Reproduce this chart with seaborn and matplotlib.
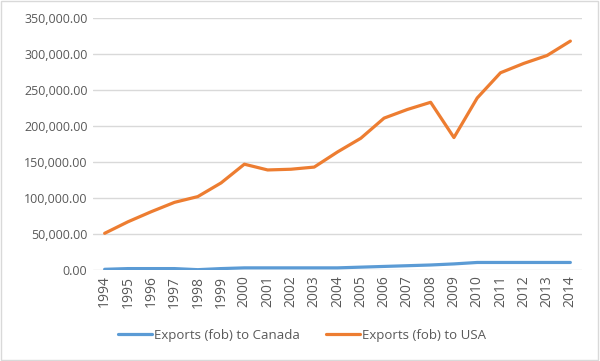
import pandas as pd
import matplotlib
matplotlib.use("Agg")
import matplotlib.pyplot as plt
from matplotlib.ticker import FuncFormatter
import seaborn as sns

# values
years = list(range(1994, 2015))
exports_canada = [1000, 2000, 2000, 2000, 500, 2000, 3000, 3000, 3000, 3000,
                  3000, 4000, 5000, 6000, 7000, 8500, 10500, 10500, 10500, 10500, 10500]
exports_usa = [51000, 67000, 81000, 94000, 102000, 121000, 147000, 139000, 140000, 143000,
               164000, 183000, 211000, 223000, 233000, 184000, 239000, 274000, 287000, 298000, 318000]
series_names = ["Exports (fob) to Canada", "Exports (fob) to USA"]
colors = ["#5B9BD5", "#ED7D31"]

df = pd.DataFrame({
    "Year": years * 2,
    "Value": exports_canada + exports_usa,
    "Series": [series_names[0]] * len(years) + [series_names[1]] * len(years),
})

sns.set_style("white")
plt.rcParams["font.family"] = ["Open Sans", "DejaVu Sans"]

fig = plt.figure(figsize=(6, 3.61), dpi=100)
ax = fig.add_axes([0.155, 0.252, 0.815, 0.698])

sns.lineplot(data=df, x="Year", y="Value", hue="Series", palette=colors,
             linewidth=2.3, ax=ax, legend=True)

ax.set_xlim(1993.5, 2014.5)
ax.set_ylim(0, 350000)
ax.set_yticks(range(0, 350001, 50000))
ax.yaxis.set_major_formatter(FuncFormatter(lambda v, p: f"{v:,.2f}"))
ax.set_xticks(years)
ax.set_xticklabels([str(y) for y in years], rotation=90)
ax.tick_params(axis="y", labelsize=9, colors="#595959", length=0, pad=4)
ax.tick_params(axis="x", labelsize=10, colors="#595959", length=0, pad=4)
ax.grid(axis="y", color="#D9D9D9", linewidth=1)
ax.set_axisbelow(True)
for s in ax.spines.values():
    s.set_visible(False)
ax.set_xlabel("")
ax.set_ylabel("")

ax.legend_.remove()
handles, labels = ax.get_legend_handles_labels()
fig.legend(handles, labels, loc="center", bbox_to_anchor=(0.503, 0.072), ncol=2,
           frameon=False, fontsize=9.5, labelcolor="#595959", columnspacing=2.0,
           handlelength=2.6, handletextpad=0.1)

# thin border around the whole chart
fig.patches.append(plt.Rectangle((0.002, 0.003), 0.995, 0.993, transform=fig.transFigure,
                                 fill=False, edgecolor="#D9D9D9", linewidth=1))

fig.savefig("out.png", dpi=100)
